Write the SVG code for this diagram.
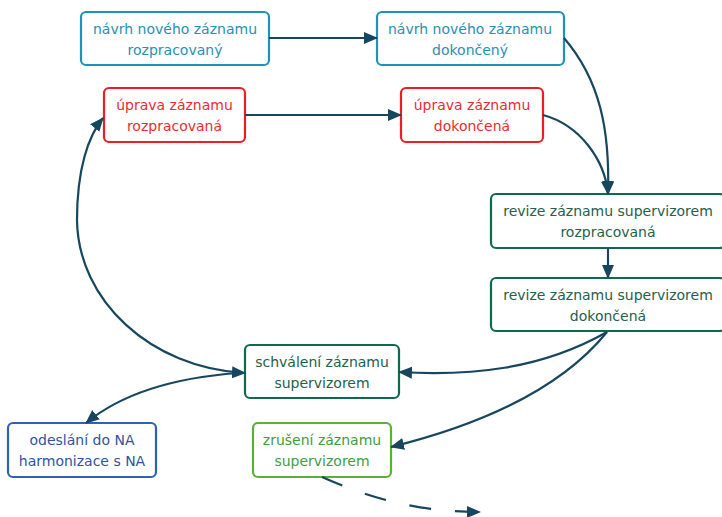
<svg xmlns="http://www.w3.org/2000/svg" width="722" height="517" viewBox="0 0 722 517">
<style>
.box{fill:#fff;stroke-width:2.2}
.t{font-family:"DejaVu Sans",sans-serif;font-size:14px;text-anchor:middle}
.c1 rect{stroke:#1e93b9}.c1 text{fill:#2a90b3}
.c2 rect{stroke:#ee1c25}.c2 text{fill:#ee2a30}
.c3 rect{stroke:#0d6a4c}.c3 text{fill:#24604c}
.c4 rect{stroke:#2c62b6}.c4 text{fill:#30539f}
.c5 rect{stroke:#5bb03a}.c5 text{fill:#449c40}
.e{fill:none;stroke:#17475f;stroke-width:2.2}
</style>
<defs>
<marker id="a" markerUnits="userSpaceOnUse" markerWidth="16" markerHeight="14" refX="13" refY="6" orient="auto-start-reverse">
<path d="M0,0 L14,6 L0,12 Z" fill="#17475f"/>
</marker>
</defs>
<g id="n1" class="c1"><rect class="box" x="81" y="12" width="188" height="53" rx="5"/><text class="t" x="175" y="34">návrh nového záznamu</text><text class="t" x="175" y="55">rozpracovaný</text></g>
<g id="n2" class="c1"><rect class="box" x="377" y="12" width="187" height="53" rx="5"/><text class="t" x="470" y="34">návrh nového záznamu</text><text class="t" x="470" y="55">dokončený</text></g>
<g id="n3" class="c2"><rect class="box" x="104" y="88" width="141" height="54" rx="5"/><text class="t" x="174.5" y="110">úprava záznamu</text><text class="t" x="174.5" y="131">rozpracovaná</text></g>
<g id="n4" class="c2"><rect class="box" x="401" y="88" width="142" height="54" rx="5"/><text class="t" x="472" y="110">úprava záznamu</text><text class="t" x="472" y="131">dokončená</text></g>
<g id="n5" class="c3"><rect class="box" x="491" y="194" width="234" height="54" rx="5"/><text class="t" x="608" y="216">revize záznamu supervizorem</text><text class="t" x="608" y="237">rozpracovaná</text></g>
<g id="n6" class="c3"><rect class="box" x="491" y="278" width="234" height="53" rx="5"/><text class="t" x="608" y="300">revize záznamu supervizorem</text><text class="t" x="608" y="321">dokončená</text></g>
<g id="n7" class="c3"><rect class="box" x="245" y="345" width="154" height="53" rx="5"/><text class="t" x="322" y="367">schválení záznamu</text><text class="t" x="322" y="388">supervizorem</text></g>
<g id="n8" class="c4"><rect class="box" x="8" y="423" width="148" height="54" rx="5"/><text class="t" x="82" y="445">odeslání do NA</text><text class="t" x="82" y="466">harmonizace s NA</text></g>
<g id="n9" class="c5"><rect class="box" x="253" y="423" width="138" height="54" rx="5"/><text class="t" x="322" y="445">zrušení záznamu</text><text class="t" x="322" y="466">supervizorem</text></g>
<g id="edges">
<path class="e" d="M269,38 L377,38" marker-end="url(#a)"/>
<path class="e" d="M245,115 L401,115" marker-end="url(#a)"/>
<path class="e" d="M564,38 C600,80 610,130 608,194" marker-end="url(#a)"/>
<path class="e" d="M543,115 C580,125 605,160 608,194" marker-end="url(#a)"/>
<path class="e" d="M608,248 L608,278" marker-end="url(#a)"/>
<path class="e" d="M607,332 C540,370 470,376 399,372" marker-end="url(#a)"/>
<path class="e" d="M607,332 C560,390 480,425 391,447" marker-end="url(#a)"/>
<path class="e" d="M245,373 C150,368 78,300 77,220 C77,170 88,136 103,118" marker-start="url(#a)" marker-end="url(#a)"/>
<path class="e" d="M238,373 C170,378 120,395 86,423" marker-end="url(#a)"/>
<path class="e" d="M322,477 C380,503 430,512 480,512" stroke-dasharray="22,24" marker-end="url(#a)"/>
</g>
</svg>
